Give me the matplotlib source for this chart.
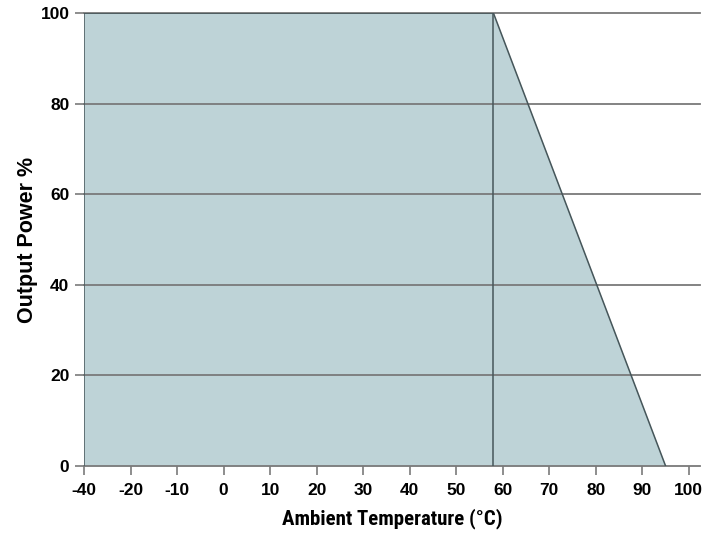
import matplotlib
matplotlib.use("Agg")
import matplotlib.pyplot as plt

# derating curve (ambient temperature in degC, output power in %)
temps = [-40, 58, 95]
power = [100, 100, 0]

# x tick labels as printed (the first label sits where -30 would be)
xtick_pos = [-30, -20, -10, 0, 10, 20, 30, 40, 50, 60, 70, 80, 90, 100]
xtick_labels = ['-40', '-20', '-10', '0', '10', '20', '30', '40', '50',
                '60', '70', '80', '90', '100']
ytick_pos = [0, 20, 40, 60, 80, 100]

fill_color = '#bed3d7'
edge_color = '#46565a'
grid_color = '#7a7a7a'

fig = plt.figure(figsize=(7.13, 5.45), dpi=100)
ax = fig.add_axes([0.1178, 0.145, 0.864, 0.831])

ax.set_xlim(-30, 102.4)
ax.set_ylim(0, 100)

ax.fill_between(temps, power, 0, color=fill_color, lw=0, zorder=1)

for y in ytick_pos:
    ax.axhline(y, color=grid_color, lw=1.3, zorder=2, clip_on=False)

ax.plot(temps, power, color=edge_color, lw=1.1, zorder=3)
ax.plot([temps[1], temps[1]], [0, power[1]], color=edge_color, lw=1.1, zorder=3)
ax.plot([-30, -30], [0, 100], color=edge_color, lw=1.1, zorder=3)

for s in ax.spines.values():
    s.set_visible(False)

ax.set_xticks(xtick_pos)
ax.set_xticklabels(xtick_labels)
ax.set_yticks(ytick_pos)
ax.tick_params(axis='both', color=grid_color, width=1.2, length=6.5, pad=4,
               labelsize=12.5)
ax.tick_params(axis='x', pad=6)
for lab in ax.get_xticklabels() + ax.get_yticklabels():
    lab.set_fontfamily(['Liberation Sans', 'DejaVu Sans'])
    lab.set_fontweight('bold')

ax.set_ylabel('Output Power %', fontsize=15.5, fontweight='bold',
              family=['Liberation Sans', 'DejaVu Sans'], labelpad=2)
ax.set_xlabel('Ambient Temperature (°C)', fontsize=15, fontweight='bold',
              family=['Roboto Condensed', 'DejaVu Sans'], labelpad=7)

fig.savefig('out.png', dpi=100)
